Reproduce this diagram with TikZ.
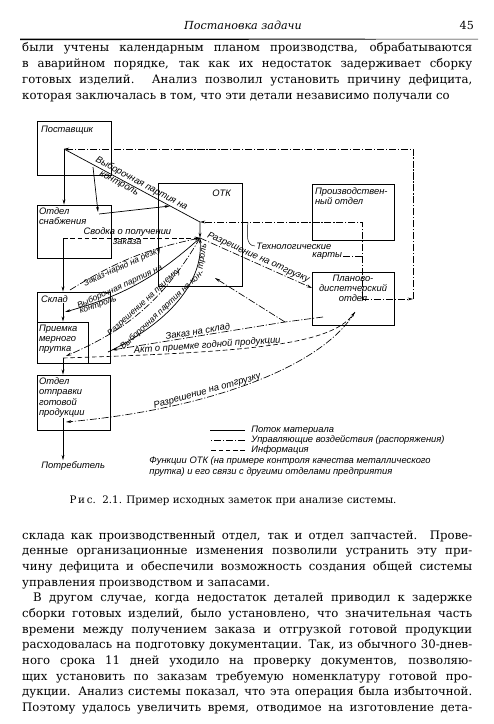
\documentclass[tikz,border=0pt]{standalone}
\usepackage{fontspec}
\setmainfont{DejaVu Serif}
\newfontfamily\dgm{Liberation Sans}
\usetikzlibrary{arrows.meta}

\begin{document}
\begin{tikzpicture}[x=0.3mm,y=-0.3mm,
 bx/.style 2 args={draw,line width=.6pt,minimum width=#1*0.3mm,minimum height=#2*0.3mm,inner sep=0pt},
 lbl/.style={font=\dgm\itshape\fontsize{8}{8.6}\selectfont,inner sep=1pt,align=left},
 lbs/.style={lbl,font=\dgm\itshape\fontsize{7.2}{8}\selectfont,inner sep=.5pt},
 txt/.style={text width=135mm,align=justify,inner sep=0pt,font=\fontsize{10}{13.4}\selectfont},
 ln/.style={line width=.6pt},
 ud/.style={line width=.55pt,dash pattern=on 6pt off 1.6pt on 1pt off 1.6pt},
 inf/.style={line width=.55pt,dash pattern=on 4pt off 2.2pt},
 a/.style={-{Stealth[length=4.5pt,width=2.4pt]}},
 ldr/.style={line width=.4pt}]
\useasboundingbox (0,0) rectangle (494,724);

% page head
\node[font=\itshape\fontsize{9.5}{11}\selectfont,anchor=base] (hdr) at (243,30) {Постановка задачи};
\node[font=\fontsize{9.5}{11}\selectfont,anchor=base east] (pg) at (478,30) {45};
\fill (20,38.6) -- (478,38.8) -- (478,39.3) -- (20,40.2) -- cycle;

\node[txt,anchor=base west] (par1) at (22,52) {\parfillskip=0pt\hyphenpenalty=10000
были учтены календарным планом производства, обрабатываются\linebreak
в аварийном порядке, так как их недостаток задерживает сборку\linebreak
готовых изделий. Анализ позволил установить причину дефицита,\linebreak
которая заключалась в том, что эти детали независимо получали со};

% boxes
\node[bx={74}{54}] (post) at (74,148) {};
\node[bx={74}{53}] (snab) at (74,231.5) {};
\node[bx={84}{103}] (otk) at (200,234.5) {};
\node[bx={82}{56}] (proizv) at (353,212) {};
\node[bx={82}{53}] (pdo) at (353,298.5) {};
\node[bx={73}{71}] (sklad) at (73.5,327.5) {};
\node[bx={51}{41}] (priem) at (62.5,342.5) {};
\node[bx={73}{55}] (otpr) at (73.5,402.5) {};

\node[lbl,anchor=north west] (postT) at ([shift={(3,4)}]post.north west) {Поставщик};
\node[lbl,anchor=north west] (snabT) at ([shift={(1,2)}]snab.north west) {Отдел\\снабжения};
\node[lbl,anchor=north east] (otkT) at ([shift={(-10,6)}]otk.north east) {ОТК};
\node[lbl,anchor=north west] (proizvT) at ([shift={(2,3)}]proizv.north west) {Производствен-\\ный отдел};
\node[lbl,anchor=north,align=center] (pdoT) at ([shift={(0,2)}]pdo.north) {Планово-\\диспетчерский\\отдел};
\node[lbl,anchor=north west] (skladT) at ([shift={(3,3)}]sklad.north west) {Склад};
\node[lbl,anchor=north west] (priemT) at ([shift={(1,2)}]priem.north west) {Приемка\\мерного\\прутка};
\node[lbl,anchor=north west] (otprT) at ([shift={(1,2)}]otpr.north west) {Отдел\\отправки\\готовой\\продукции};
\node[lbl,anchor=west] (potr) at (40,466) {Потребитель};

% ports
\coordinate (pP) at (64,149);
\coordinate (pP2) at (93,167);
\coordinate (pS2) at (98,212);
\coordinate (pS3) at (99,214);
\coordinate (pO) at (170,206);
\coordinate (pT) at (200,222);
\coordinate (pC) at (200,238);
\coordinate (pS) at (63,238);
\coordinate (pK) at (63,303);
\coordinate (pK1) at (70,290);
\coordinate (pK2) at (65,312);
\coordinate (pR) at (63,358);
\coordinate (pR2) at (66,356);
\coordinate (pR3) at (108,352);
\coordinate (pK3) at (112,350);
\coordinate (pU) at (63,418);
\coordinate (pD) at (362,299);
\coordinate (pQ) at (413,299);
\coordinate (pD3) at (312,288);
\coordinate (pD5) at (323,317);
\coordinate (pJ) at (285,322);
\coordinate (pO1) at (215,278);
\coordinate (pD6) at (355,312);
\coordinate (pU2) at (66,422);
\coordinate (pL1) at (248,222);

% material flow
\draw[ln,a] (pP) -- (pP |- snab.north);
\draw[ln,a] (pP2) -- (pS2);
\draw[ln,a] (pS3) -- (pO);
\draw[ln,a] (pS) -- (pS |- sklad.north);
\draw[ln,a] (pK) -- (pK |- priem.north);
\draw[ln,a] (pR) -- (pR |- otpr.north);
\draw[ln,a] (pU) -- (pU |- potr.north);
\draw[ln,a] (pP) -- node[lbl,sloped,above,pos=.55] {Выборочная партия на}
 node[lbl,sloped,below,pos=.42] {контроль} (pT) -- (pC);
\draw[ln,a] (pC) to[bend left=13] node[lbs,sloped,above,pos=.62] {Выборочная партия на}
 node[lbs,sloped,below,pos=.8] {контроль} (pK2);
\draw[ln,a] (pR3) .. controls (170,322) and (203,282) .. node[lbs,sloped,above,pos=.38] {Выборочная партия на кон-}
 node[lbs,sloped,below,pos=.86] {троль} (pC);

% control
\draw[ud,a] (pD) -- (pQ);
\draw[ud,a] (pQ) |- (pP);
\draw[ud,a] (pD) |- (pT);
\draw[ud,a] (pC) -- node[lbl,sloped,above] {Разрешение на отгрузку} (pD3);
\draw[ud,a] (pK1) to[bend left=10] node[lbs,sloped,below,pos=.4] {Заказ-наряд на резку} (pC);
\draw[ud,a] (pC) to[bend left=18] node[lbs,sloped,above,pos=.47] {Разрешение на приемку} (pR2);
\draw[ud,a] (pD5) -- (pJ) -- node[lbl,sloped,above,pos=.5] {Заказ на склад} (pK3);
\draw[ud,a] (pJ) -- (pO1);
\draw[ud,a] (pD6) .. controls (320,370) and (200,410) .. node[lbl,sloped,above,pos=.62] {Разрешение на отгрузку} (pU2);

% information
\draw[inf,a] (pS) -- node[lbl,above,pos=.47] {Сводка о получении} node[lbl,below,pos=.47] {заказа} (pC);
\draw[inf,a] (pR) .. controls (250,352) and (330,345) .. node[lbl,sloped,above,pos=.31] {Акт о приемке годной продукции} (pD6);

\node[lbl,anchor=west] (techA) at (255,246) {Технологические};
\node[lbl,anchor=west] (techB) at (311,256) {карты};
\draw[ldr] (pL1) to[out=-95,in=180] (techA.west);
\draw[ud] (techB.east) -- (techB.east -| pD);

% legend
\node[lbl,anchor=west] (lg1) at (250,430) {Поток материала};
\node[lbl,anchor=west] (lg2) at (250,440) {Управляющие воздействия (распоряжения)};
\node[lbl,anchor=west] (lg3) at (250,450) {Информация};
\draw[ln] (lg1.west) ++(-5,0) -- ++(-35,0);
\draw[ud] (lg2.west) ++(-5,0) -- ++(-35,0);
\draw[inf] (lg3.west) ++(-5,0) -- ++(-35,0);
\node[lbl,anchor=base west] (fn) at (148,474) {Функции ОТК (на примере контроля качества металлического\\прутка) и его связи с другими отделами предприятия};

\node[font=\fontsize{8.8}{10}\selectfont,anchor=base] (cap) at (233,503) {Р\,и\,с.\ \ 2.1. Пример исходных заметок при анализе системы.};

\node[txt,anchor=base west] (par2) at (22,539) {\hyphenpenalty=10000
склада как производственный отдел, так и отдел запчастей. Прове-\linebreak
денные организационные изменения позволили устранить эту при-\linebreak
чину дефицита и обеспечили возможность создания общей системы\linebreak
управления производством и запасами.\par
\hspace*{3.3mm}В другом случае, когда недостаток деталей приводил к задержке\linebreak
сборки готовых изделий, было установлено, что значительная часть\linebreak
времени между получением заказа и отгрузкой готовой продукции\linebreak
расходовалась на подготовку документации. Так, из обычного 30-днев-\linebreak
ного срока 11 дней уходило на проверку документов, позволяю-\linebreak
щих установить по заказам требуемую номенклатуру готовой про-\linebreak
дукции. Анализ системы показал, что эта операция была избыточной.\linebreak
Поэтому удалось увеличить время, отводимое на изготовление дета-\parfillskip=0pt\par};
\end{tikzpicture}
\end{document}
